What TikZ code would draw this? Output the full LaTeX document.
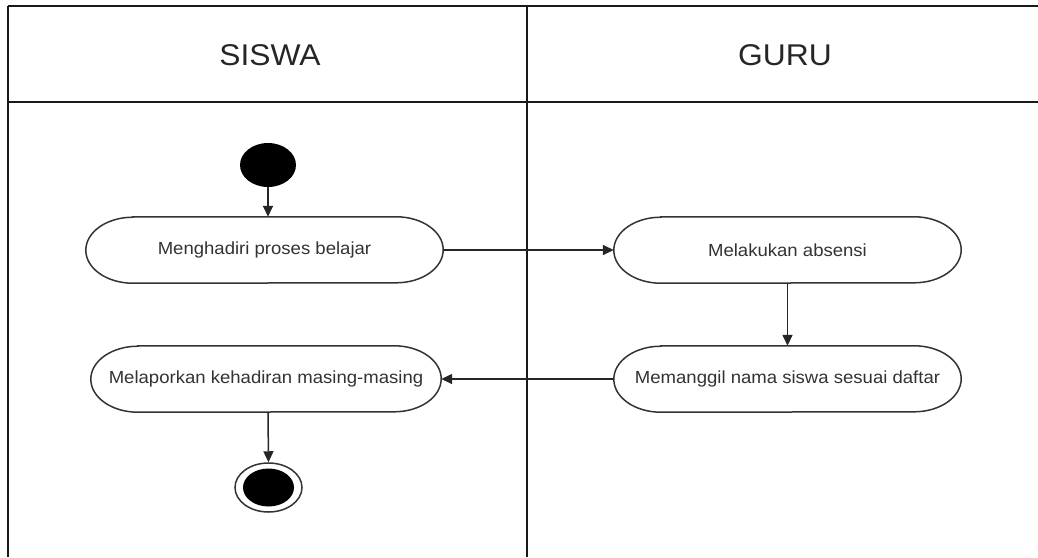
\documentclass[tikz,border=0pt]{standalone}
\usepackage{fontspec}
\setmainfont{Liberation Sans}
\newfontfamily\lanefont[FakeStretch=1.06]{Liberation Sans}
\usetikzlibrary{arrows.meta,shapes.geometric}

% pill outline with elliptical ends drawn around a named node
\newcommand{\pilloutline}[1]{%
  \draw[pillline] ([xshift=47pt]#1.north west) -- ([xshift=-47pt]#1.north east)
    arc[start angle=90,end angle=-90,x radius=47pt,y radius=33pt]
    -- ([xshift=47pt]#1.south west)
    arc[start angle=270,end angle=90,x radius=47pt,y radius=33pt] -- cycle;}

\begin{document}
\begin{tikzpicture}[x=1pt,y=-1pt,
  laneline/.style={draw=black!90,line width=2pt},
  lanetitle/.style={font=\lanefont\fontsize{30}{34}\selectfont,text=black!85},
  activity/.style={minimum width=354pt,minimum height=66pt,inner sep=0pt,
    font=\lanefont\fontsize{17.5}{20}\selectfont,text=black!80},
  pillline/.style={draw=black!80,line width=1.5pt,fill=white},
  flow/.style={draw=black!85,line width=1.5pt,-{Triangle[length=11pt,width=10pt]}},
  startnode/.style={ellipse,fill=black,minimum width=56pt,minimum height=44pt,inner sep=0pt},
  endring/.style={ellipse,draw=black!80,line width=1.5pt,fill=white,minimum width=67pt,minimum height=49pt,inner sep=0pt},
  endcore/.style={ellipse,fill=black,minimum width=51pt,minimum height=38pt,inner sep=0pt}]
\useasboundingbox (0,0) rectangle (1038,557);

% swimlane frame
\coordinate (tl) at (8,5.5);
\coordinate (tr) at (1038,5.5);
\coordinate (hl) at (8,102);
\coordinate (hr) at (1038,102);
\coordinate (bl) at (8,557);
\coordinate (mt) at (526.5,5.5);
\coordinate (mb) at (526.5,557);
\draw[laneline] (tl) -- (tr);
\draw[laneline] (hl) -- (hr);
\draw[laneline] (tl) -- (bl);
\draw[laneline] (mt) -- (mb);

\node[lanetitle] (siswa) at (270,55) {SISWA};
\node[lanetitle] (guru) at (785,55) {GURU};

% activities
\node[startnode] (start) at (268,165) {};
\node[activity,minimum width=357pt] (hadir) at (264.5,250) {};
\node[activity,minimum width=347pt] (absen) at (787.5,250) {};
\node[activity,minimum width=347pt] (panggil) at (787.5,379) {};
\node[activity,minimum width=350pt] (lapor) at (266,379) {};
\pilloutline{hadir}
\pilloutline{absen}
\pilloutline{panggil}
\pilloutline{lapor}
\node[activity,draw=none,fill=none] at (hadir) {Menghadiri proses belajar};
\node[activity,draw=none,fill=none] at (absen) {Melakukan absensi};
\node[activity,draw=none,fill=none] at (panggil) {Memanggil nama siswa sesuai daftar};
\node[activity,draw=none,fill=none] at (lapor) {Melaporkan kehadiran masing-masing};

\node[endring] (finish) at (268.5,487.5) {};
\node[endcore] (finishcore) at (finish) {};

% control flow
\draw[flow] (start.south) -- (start.south |- hadir.north);
\draw[flow] (hadir.east) -- (absen.west);
\draw[flow] (absen.south) -- (panggil.north);
\draw[flow] (panggil.west) -- (lapor.east);
\draw[flow] (lapor.south -| start) -- (finish.north);
\end{tikzpicture}
\end{document}
